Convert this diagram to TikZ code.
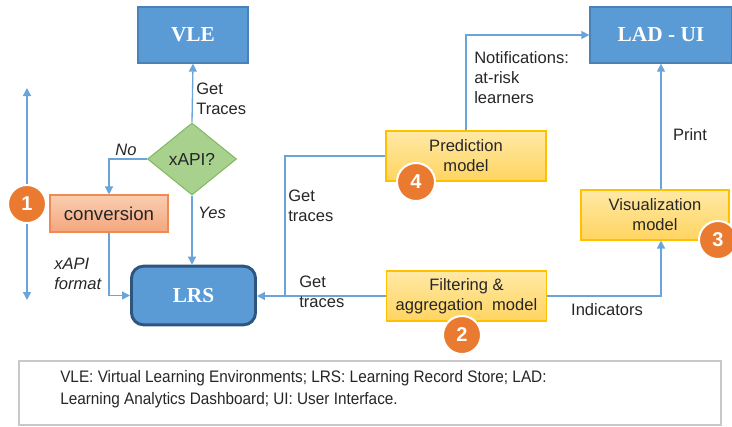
\documentclass[tikz,border=0pt]{standalone}
\usepackage{fontspec}
\setmainfont{Liberation Sans}
\newfontfamily\boxfont{Liberation Serif}
\newfontfamily\notefont[FakeStretch=0.92]{Liberation Sans}
\usepackage{xcolor}
\usepackage{tikz}
\usetikzlibrary{arrows.meta, positioning, shapes.geometric}

\definecolor{sysblue}{HTML}{5B9BD5}
\definecolor{sysedge}{HTML}{4A82B8}
\definecolor{lrsedge}{HTML}{2C5680}
\definecolor{linkblue}{HTML}{6AA5DA}
\definecolor{gemfill}{HTML}{A9D18E}
\definecolor{gemedge}{HTML}{82BA63}
\definecolor{convtop}{HTML}{F9CDB0}
\definecolor{convbot}{HTML}{F4A77E}
\definecolor{convedge}{HTML}{F08A55}
\definecolor{modtop}{HTML}{FFE9A6}
\definecolor{modbot}{HTML}{FFD460}
\definecolor{modedge}{HTML}{FFC000}
\definecolor{badge}{HTML}{E97A30}
\definecolor{inktext}{HTML}{262626}
\definecolor{noteedge}{HTML}{C8C8C8}

\begin{document}
\begin{tikzpicture}[x=0.75pt,y=-0.75pt,>={Triangle[width=6pt,length=6pt]},
        link/.style={draw=linkblue, line width=1pt},
        sysbox/.style={draw=sysedge, fill=sysblue, line width=1pt, text=white,
            font=\boxfont\bfseries\fontsize{16}{18}\selectfont, minimum width=82.5pt, minimum height=42pt},
        modbox/.style={draw=modedge, top color=modtop, bottom color=modbot, line width=0.8pt, text=inktext,
            font=\fontsize{12.4}{15}\selectfont, align=center, minimum width=120pt, minimum height=37.5pt},
        num/.style={circle, draw=white, line width=1.5pt, fill=badge, text=white, minimum size=28.5pt,
            inner sep=0pt, font=\bfseries\fontsize{15}{15}\selectfont},
        lbl/.style={text=inktext, align=left, inner sep=0pt, font=\fontsize{12.4}{15}\selectfont},
        ilbl/.style={lbl, font=\itshape\fontsize{12.4}{15}\selectfont}]

    \useasboundingbox (0,0) rectangle (732,426);

    \node[sysbox] (vle) at (193,35) {VLE};
    \node[sysbox, minimum width=106.5pt] (lad) at (661,35) {LAD - UI};
    \node[sysbox, draw=lrsedge, line width=2.2pt, rounded corners=9pt, minimum width=93pt, minimum height=44pt] (lrs) at (193.5,295.5) {LRS};

    \node[diamond, draw=gemedge, fill=gemfill, line width=0.8pt, aspect=1.25, inner sep=0pt,
        minimum width=66.75pt, minimum height=54pt, text=inktext, font=\fontsize{13}{15}\selectfont] (xapi) at (192,159) {xAPI?};
    \node[draw=convedge, top color=convtop, bottom color=convbot, line width=0.8pt, text=inktext,
        font=\fontsize{14}{16}\selectfont, minimum width=88.5pt, minimum height=27.75pt] (conv) at (109,213.5) {conversion};

    \node[modbox] (pred) at (466,156) {Prediction\\ model};
    \node[modbox] (filt) at (466.5,296) {Filtering \&\\ aggregation\ \ model};
    \node[modbox, minimum width=111pt] (vis) at (655,215) {Visualization\\ model};

    \coordinate (top1) at (27,88);
    \coordinate (bot1) at (27,300);
    \coordinate (join) at (285,296);

    \draw[link,<->] (top1) -- (bot1);
    \draw[link,->] (xapi.north) -- (vle.south);
    \draw[link,->] (xapi.west) -| (conv.north);
    \draw[link,->] (xapi.south) -- (xapi.south |- lrs.north);
    \draw[link,->] (conv.south) |- (lrs.west);
    \draw[link,->] (filt.west) -- (filt.west -| lrs.east);
    \draw[link] (pred.west) -| (join);
    \draw[link,->] (pred.north) |- (lad.west);
    \draw[link,->] (filt.east) -| (lad.south |- vis.south);
    \draw[link,->] (lad.south |- vis.north) -- (lad.south);

    \node[num] (n1) at (27,204) {1};
    \node[num] (n4) at (416,182) {4};
    \node[num] (n2) at (462,335) {2};
    \node[num] (n3) at (718,240) {3};

    \node[lbl, anchor=west] (gettr) at (196,99) {Get\\ Traces};
    \node[ilbl] (no) at (126,150) {No};
    \node[ilbl] (yes) at (212,213) {Yes};
    \node[ilbl, anchor=west] (fmt) at (54,274) {xAPI\\ format};
    \node[lbl, anchor=west] (getpred) at (288,206) {Get\\ traces};
    \node[lbl, anchor=west] (getlrs) at (299,292) {Get\\ traces};
    \node[lbl, anchor=west] (notif) at (474,78) {Notifications:\\ at-risk\\ learners};
    \node[lbl] (print) at (690,135) {Print};
    \node[lbl] (ind) at (607,310) {Indicators};

    \node[draw=noteedge, line width=1.5pt, minimum width=527pt, minimum height=47.5pt, inner sep=0pt] (note) at (370,393) {};
    \node[text=inktext, align=left, anchor=west, inner sep=0pt, font=\notefont\fontsize{12.5}{16.5}\selectfont] (notetext) at (60,389)
        {VLE: Virtual Learning Environments; LRS: Learning Record Store; LAD:\\ Learning Analytics Dashboard; UI: User Interface.};
\end{tikzpicture}
\end{document}
